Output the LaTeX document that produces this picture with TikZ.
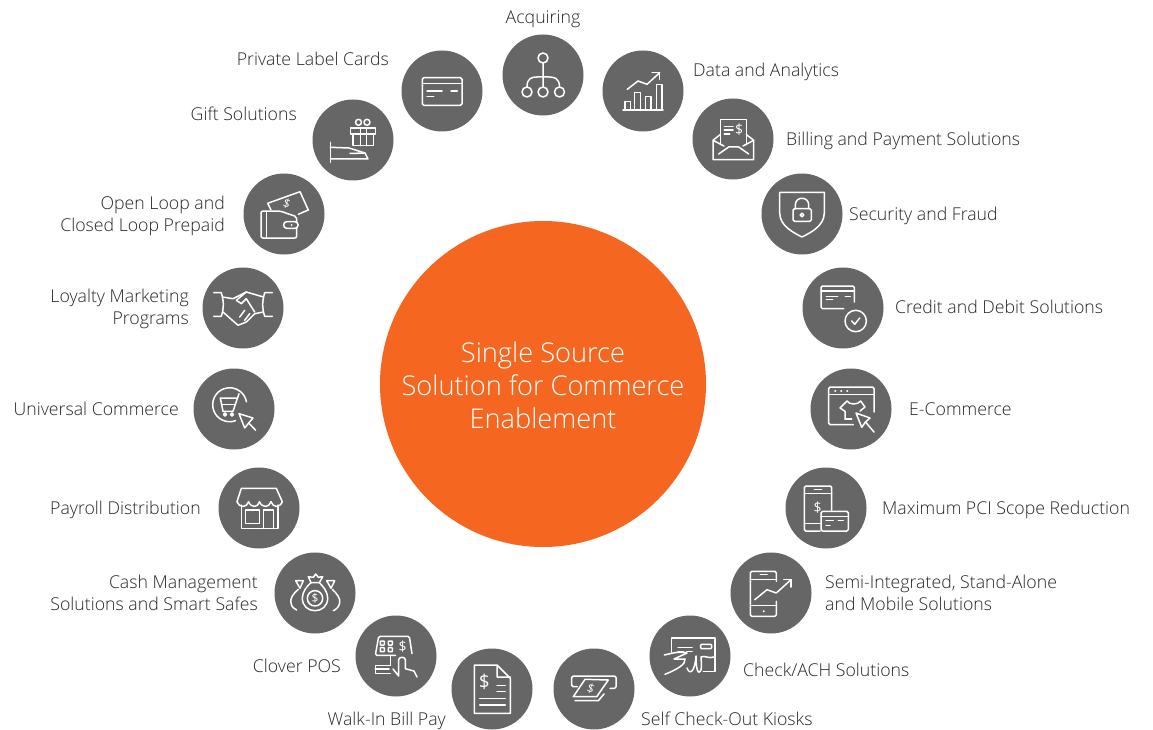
\documentclass[tikz,border=0pt]{standalone}
\usepackage{fontspec}
\setmainfont{Open Sans}[UprightFont=* Light]
\newfontfamily\signfont{Open Sans}
\usepackage{xcolor}
\usepackage{tikz}
\definecolor{hubgrey}{RGB}{102,102,102}
\definecolor{coreorange}{RGB}{245,103,33}
\tikzset{
  hub/.style={circle, fill=hubgrey, inner sep=0pt, minimum size=81pt},
  core/.style={circle, fill=coreorange, inner sep=0pt, minimum size=326pt},
  coretext/.style={inner sep=0pt, text=white, align=center, font=\fontsize{27.2}{33}\selectfont},
  lblwest/.style={anchor=west, inner sep=0pt, align=left, text=black!85, text height=16pt, text depth=3.4pt, font=\fontsize{17.7}{21.5}\selectfont},
  lbleast/.style={anchor=east, inner sep=0pt, align=right, text=black!85, text height=16pt, text depth=3.4pt, font=\fontsize{17.7}{21.5}\selectfont},
  icon/.style={draw=white, line width=1.5pt, line join=round, line cap=round},
  dollar/.style={inner sep=0pt, text=white, font=\signfont\fontsize{14}{14}\selectfont}
}
\begin{document}
\begin{tikzpicture}[x=1pt, y=-1pt]
\useasboundingbox (0,0) rectangle (1153,730);
\node[core] (center) at (543,384) {};
\node[coretext] (centerlbl) at (543,385) {Single Source\\Solution for Commerce\\Enablement};

\node[hub] (acquiring) at (543,75) {};
\node[hub] (data) at (643,91) {};
\node[hub] (billing) at (733,139) {};
\node[hub] (security) at (802,214) {};
\node[hub] (credit) at (843,308) {};
\node[hub] (ecommerce) at (851,409) {};
\node[hub] (pci) at (826,508) {};
\node[hub] (semi) at (771,593) {};
\node[hub] (check) at (690,656) {};
\node[hub] (kiosk) at (594,689) {};
\node[hub] (walkin) at (492,689) {};
\node[hub] (clover) at (396,656) {};
\node[hub] (cash) at (315,593) {};
\node[hub] (payroll) at (259,508) {};
\node[hub] (universal) at (234,409) {};
\node[hub] (loyalty) at (243,308) {};
\node[hub] (prepaid) at (284,214) {};
\node[hub] (gift) at (353,140) {};
\node[hub] (private) at (442,91) {};

\node[lblwest, anchor=center] (acquiringlbl) at (543,17) {Acquiring};
\node[lblwest] (datalbl) at (693,70) {Data and Analytics};
\node[lblwest] (billinglbl) at (786,139) {Billing and Payment Solutions};
\node[lblwest] (securitylbl) at (849,214) {Security and Fraud};
\node[lblwest] (creditlbl) at (895,307) {Credit and Debit Solutions};
\node[lblwest] (ecommercelbl) at (909,409) {E-Commerce};
\node[lblwest] (pcilbl) at (882,508) {Maximum PCI Scope Reduction};
\node[lblwest] (semilbl) at (825,604) {Semi-Integrated, Stand-Alone\\and Mobile Solutions};
\node[lblwest] (checklbl) at (743,670) {Check/ACH Solutions};
\node[lblwest] (kiosklbl) at (641,719) {Self Check-Out Kiosks};
\node[lbleast] (walkinlbl) at (446,719) {Walk-In Bill Pay};
\node[lbleast] (cloverlbl) at (341,666) {Clover POS};
\node[lbleast] (cashlbl) at (258,604) {Cash Management\\Solutions and Smart Safes};
\node[lbleast] (payrolllbl) at (201,508) {Payroll Distribution};
\node[lbleast] (universallbl) at (179,409) {Universal Commerce};
\node[lbleast] (loyaltylbl) at (189,318) {Loyalty Marketing\\Programs};
\node[lbleast] (prepaidlbl) at (225,225) {Open Loop and\\Closed Loop Prepaid};
\node[lbleast] (giftlbl) at (297,114) {Gift Solutions};
\node[lbleast] (privatelbl) at (389,59) {Private Label Cards};

\begin{scope}[shift={(acquiring.center)}]
\draw[icon] (0,-17) circle (5) (-16,17) circle (5) (0,17) circle (5) (16.5,17) circle (5);
\draw[icon] (0,-12) -- (0,12) (-16,12) .. controls (-16,3) and (-11,2) .. (-6,2) -- (6,2) .. controls (11,2) and (16.5,3) .. (16.5,12);
\end{scope}

\begin{scope}[shift={(data.center)}]
\draw[icon] (-20,19) -- (20,19);
\draw[icon] (-18,19) -- (-18,10.7) -- (-12.7,10.7) -- (-12.7,19);
\draw[icon] (-8.3,19) -- (-8.3,1.7) -- (-2.7,1.7) -- (-2.7,19);
\draw[icon] (2.7,19) -- (2.7,5.7) -- (8,5.7) -- (8,19);
\draw[icon] (13.3,19) -- (13.3,-6.7) -- (19,-6.7) -- (19,19);
\draw[icon] (-15.7,-1.7) -- (-5,-10) -- (4,-6.7) -- (16.7,-18.3);
\draw[icon] (9,-18.3) -- (16.7,-18.3) -- (16.7,-11.7);
\end{scope}

\begin{scope}[shift={(billing.center)}]
\draw[icon] (-12.7,5.7) -- (-12.7,-19.3) -- (13.3,-19.3) -- (13.3,5.7);
\draw[icon] (-12.7,-4.5) -- (-20,1.3) -- (-20,20.7) -- (20.7,20.7) -- (20.7,1.3) -- (13.3,-4.5);
\draw[icon] (-20,1.3) -- (-9,7) (20.7,1.3) -- (10,7);
\draw[icon] (-14.3,15) -- (-4.3,8) -- (5.7,8) -- (15.7,15);
\draw[icon] (-8.7,-12.7) -- (0,-12.7) (-8.7,-9) -- (0,-9) (-8.7,-5) -- (-3.3,-5);
\node[dollar] (billingsign) at (6,-9.3) {\$};
\end{scope}

\begin{scope}[shift={(security.center)}]
\draw[icon] (-22.3,-21.7) -- (22.3,-21.7) -- (22.3,-1) .. controls (22.3,12) and (8,19) .. (0,23) .. controls (-8,19) and (-22.3,12) .. (-22.3,-1) -- cycle;
\draw[icon, rounded corners=1.5pt] (-9,-5.3) rectangle (9.3,7.3);
\draw[icon] (-6.7,-5.3) -- (-6.7,-9) .. controls (-6.7,-18) and (6.7,-18) .. (6.7,-9) -- (6.7,-5.3);
\draw[icon] (0,1) circle (1.8);
\end{scope}

\begin{scope}[shift={(credit.center)}]
\draw[icon, rounded corners=1.5pt] (11.3,-6) -- (11.3,-22) -- (-22,-22) -- (-22,0.7) -- (0.7,0.7);
\draw[icon] (-22,-17) -- (11.3,-17);
\draw[icon] (-16.7,-11.7) -- (-5.3,-11.7) (2.3,-11.7) -- (7.3,-11.7) (-16.7,-8.3) -- (-10.3,-8.3);
\draw[icon] (12.7,13) circle (10.7);
\draw[icon] (8.7,13) -- (11.7,16.3) -- (16.7,10);
\end{scope}

\begin{scope}[shift={(ecommerce.center)}]
\draw[icon, rounded corners=1.5pt] (23,3) -- (23,-22) -- (-22.3,-22) -- (-22.3,15.7) -- (2.3,15.7);
\draw[icon] (-22.3,-14.3) -- (23,-14.3);
\fill[white] (-15.7,-18) circle (1.1) (-9.7,-18) circle (1.1) (-3.7,-18) circle (1.1);
\draw[icon] (-6,10) -- (-6,2.3) -- (-11,-1) -- (-4,-8) .. controls (-2,-4) and (7,-4) .. (9.7,-8) -- (14,-2) -- (9,2);
\draw[icon] (-6,10) -- (0.7,10);
\draw[icon] (5,4) -- (19,9) -- (14.5,13) -- (10.7,18.3) -- cycle;
\draw[icon] (14.5,13) -- (23,23);
\end{scope}

\begin{scope}[shift={(pci.center)}]
\draw[icon, rounded corners=1.5pt] (5.7,2.3) -- (5.7,-22) -- (-21.7,-22) -- (-21.7,23) -- (-6,23);
\draw[icon] (-21.7,-14.3) -- (5.7,-14.3) (-21.7,15.7) -- (-6,15.7) (-11.7,-18.3) -- (-4.3,-18.3);
\node[dollar] (pcisign) at (-8.3,0) {\$};
\draw[icon, rounded corners=1.5pt] (-5,3.3) rectangle (22.3,23);
\draw[icon] (-5,8.3) -- (22.3,8.3);
\draw[icon] (0,12.3) -- (7.3,12.3) (12.3,12.3) -- (17.3,12.3) (0,17.3) -- (4,17.3);
\end{scope}

\begin{scope}[shift={(semi.center)}]
\draw[icon, rounded corners=1.5pt] (5.3,-11.7) -- (5.3,-21.7) -- (-20.7,-21.7) -- (-20.7,23.3) -- (5.3,23.3) -- (5.3,8.3);
\draw[icon] (-20.7,-13.3) -- (5.3,-13.3) (-20.7,12.7) -- (5.3,12.7) (-10.7,-18.3) -- (-4,-18.3);
\fill[white] (-7.3,18.3) circle (1.1);
\draw[icon] (-16.3,6.7) -- (-4,-3.3) -- (5.3,0) -- (20,-13.3);
\draw[icon] (12.7,-13.3) -- (20,-13.3) -- (20,-6);
\end{scope}

\begin{scope}[shift={(check.center)}]
\draw[icon] (-18.7,-3) -- (-18.7,-18) -- (25,-18) -- (25,15.3) -- (13.3,15.3);
\draw[icon] (-12,-8.3) -- (2,-8.3) (-12,-4.3) -- (-6.7,-4.3) (-3.3,-4.3) -- (2,-4.3);
\draw[icon, rounded corners=1pt] (10.7,-11.7) rectangle (21.7,-7.3);
\draw[icon] (-25.7,-1) -- (-17,-3) .. controls (-12,-4) and (-6,-4) .. (-3,-3) -- (-16,3) -- (-5,3);
\draw[icon] (-25,18.3) .. controls (-12,13) and (-4,8) .. (-5,3);
\draw[icon] (-3,12) .. controls (0,20) and (5,15) .. (6,0) .. controls (6,13) and (8,20) .. (11,14) .. controls (12,10) and (11,4) .. (11,1) .. controls (15,-1) and (18,3) .. (24,1);
\end{scope}

\begin{scope}[shift={(kiosk.center)}]
\draw[icon, rounded corners=1.5pt] (-16.7,-2.3) -- (-22.3,-2.3) -- (-22.3,-13) -- (22,-13) -- (22,-0.7) -- (16,-0.7);
\draw[icon] (-20.7,7.7) -- (-9,-9.7) -- (14.3,-9) -- (2.7,7.7) -- cycle;
\draw[icon] (-19,11.7) -- (4.3,11.7) -- (10,5);
\node[dollar, rotate=-20, font=\signfont\fontsize{12}{12}\selectfont] (kiosksign) at (-3.3,-0.7) {\$};
\end{scope}

\begin{scope}[shift={(walkin.center)}]
\draw[icon] (5,-24) -- (-17.7,-24) -- (-17.7,24.3) -- (18.3,24.3) -- (18.3,-10.7) -- (5,-24) -- (5,-12) -- (18.3,-12);
\node[dollar, font=\signfont\fontsize{19}{19}\selectfont] (walkinsign) at (-7.7,-7.3) {\$};
\draw[icon] (5,-3.3) -- (13.3,-3.3) (5,2.7) -- (13.3,2.7) (-12.3,9.3) -- (13.3,9.3) (-12.3,16) -- (13.3,16);
\end{scope}

\begin{scope}[shift={(clover.center)}]
\draw[icon, rounded corners=1.5pt] (-0.5,-0.7) -- (-20.7,-0.7) -- (-17.3,-19.7) -- (13.3,-19.7) -- (16,-2.3);
\draw[icon, rounded corners=0.5pt] (-15.7,-15) rectangle (-11.7,-11) (-7.7,-15) rectangle (-3.7,-11) (-15.7,-8.3) rectangle (-11.7,-4.3) (-7.7,-8.3) rectangle (-3.7,-4.3);
\node[dollar] (cloversign) at (6.7,-9) {\$};
\draw[icon] (-5.7,-0.7) -- (-5.7,9.3) -- (-20.7,9.3) -- (-20.7,17.7) -- (-5.7,17.7);
\draw[icon] (-20.7,13) -- (-7,13);
\draw[icon] (-3,13) -- (2.7,20) -- (2.7,3.7) .. controls (2.7,0.5) and (9.3,0.5) .. (9.3,3.7) -- (9.3,12.7) -- (18,15) -- (21,21);
\end{scope}

\begin{scope}[shift={(cash.center)}]
\draw[icon] (-4,-10.3) -- (-6.7,-16.3) -- (-1.7,-15.7) -- (0.7,-19) -- (3.3,-15.7) -- (7.7,-16.3) -- (4.3,-10.3) -- cycle;
\draw[icon] (-4,-10.3) .. controls (-8,-7) and (-12.7,-1) .. (-12.7,5) .. controls (-12.7,13) and (-7,17.7) .. (0,17.7) .. controls (7,17.7) and (12.7,13) .. (12.7,5) .. controls (12.7,-1) and (8,-7) .. (4.3,-10.3);
\draw[icon] (0,5.3) circle (7.7);
\node[dollar, font=\signfont\fontsize{12}{12}\selectfont] (cashsign) at (0,5.3) {\$};
\draw[icon] (-19.3,-12.3) -- (-11.7,-12.3) -- (-15,-4.7) -- cycle;
\draw[icon] (19.7,-12.3) -- (11.7,-12.3) -- (16,-4.7) -- cycle;
\draw[icon] (-16.7,-3.7) .. controls (-22,1) and (-25,5) .. (-24,10) .. controls (-23.3,14) and (-21,16) .. (-18.3,17);
\draw[icon] (17.3,-3.7) .. controls (22,1) and (25.5,5) .. (24.7,10) .. controls (24,14) and (21,16.5) .. (18.3,17.7);
\end{scope}

\begin{scope}[shift={(payroll.center)}]
\draw[icon] (-22,-6.3) -- (-17.7,-19.7) -- (17.3,-19.7) -- (23.3,-6.3);
\draw[icon] (-22,-6.3) .. controls (-20,0) and (-12,0) .. (-10.5,-6.3) .. controls (-8,0) and (-1,0) .. (0.5,-6.3) .. controls (3,0) and (10,0) .. (12,-6.3) .. controls (14,0) and (21,0) .. (23.3,-6.3);
\draw[icon] (-17.7,-3) -- (-17.7,20.3) -- (19,20.3) -- (19,-3);
\draw[icon] (-13.3,2) rectangle (0.7,15.3);
\draw[icon] (4.7,20.3) -- (4.7,2) -- (14.7,2) -- (14.7,20.3);
\end{scope}

\begin{scope}[shift={(universal.center)}]
\draw[icon] (1.5,11.7) arc[start angle=70, end angle=350, radius=17];
\draw[icon] (5,-15.3) -- (-1,2.3) -- (-11,2.3) -- (-13.7,-11) -- (3,-11);
\draw[icon] (-12.3,-4.3) -- (1,-4.3);
\draw[icon] (-9,5.5) circle (1.5) (-2,5.5) circle (1.5);
\draw[icon] (5,4.7) -- (19,9) -- (14.7,14) -- (10.7,19) -- cycle;
\draw[icon] (14.7,14) -- (21.7,21.3);
\end{scope}

\begin{scope}[shift={(loyalty.center)}]
\draw[icon] (-29.3,-15.3) -- (-21.7,-15.3) .. controls (-19,-6) and (-19,0) .. (-21.7,8.3) -- (-29.3,8.3);
\draw[icon] (29.3,-15.3) -- (21.7,-15.3) .. controls (19,-6) and (19,0) .. (21.7,8.3) -- (29.3,8.3);
\draw[icon] (-20.5,-11) -- (-10,-9.3) -- (3.3,-16) -- (20.5,-11);
\draw[icon] (-20,4) -- (-5,17.3) -- (3.3,14) -- (11.7,5.7) -- (20.5,4);
\draw[icon] (3.3,-16) -- (-6.7,-7.7) -- (-1.7,-4.3) -- (3.3,-9.3) -- (11.7,4);
\draw[icon] (-3.3,9) -- (1.7,2.3) (1.7,12.3) -- (6.7,5.7);
\end{scope}

\begin{scope}[shift={(prepaid.center)}]
\draw[icon, rounded corners=2pt] (12.7,7.7) -- (12.7,2.7) -- (-4,-3) -- (-23,-3) -- (-23,24) -- (12.7,24) -- (12.7,14.3);
\draw[icon] (-17.3,-3) -- (-17.3,24);
\draw[icon, rounded corners=3pt] (-0.3,7.7) rectangle (14,14.3);
\fill[white] (7.7,11) circle (1);
\draw[icon] (-13,-4) -- (-16.3,-10.7) -- (16,-22.3) -- (24.3,-4) -- (14.3,0.3);
\node[dollar, rotate=-20, font=\signfont\fontsize{12}{12}\selectfont] (prepaidsign) at (2.7,-10.7) {\$};
\end{scope}

\begin{scope}[shift={(gift.center)}]
\draw[icon] (-2.7,-12) rectangle (22.3,-6);
\draw[icon] (0,-6) -- (0,5.7) -- (20.7,5.7) -- (20.7,-6);
\draw[icon] (7.3,-12) -- (7.3,5.7) (13.3,-12) -- (13.3,5.7);
\draw[icon] (5.5,-17.7) circle (3) (14,-17.7) circle (3);
\draw[icon] (-22.7,2.3) -- (-22.7,22.3);
\draw[icon] (-22.7,7.3) -- (-4,8) -- (12,13) -- (15,19) -- (-22.7,19);
\draw[icon] (-3,13.5) -- (12,13);
\end{scope}

\begin{scope}[shift={(private.center)}]
\draw[icon, rounded corners=1.5pt] (-19.7,-13.3) rectangle (20,14.3);
\draw[icon] (-19.7,-7.7) -- (20,-7.7);
\draw[icon] (-15,0) -- (0,0) (9,0) -- (15.3,0) (-15,5.3) -- (-8.3,5.3);
\end{scope}
\end{tikzpicture}
\end{document}
